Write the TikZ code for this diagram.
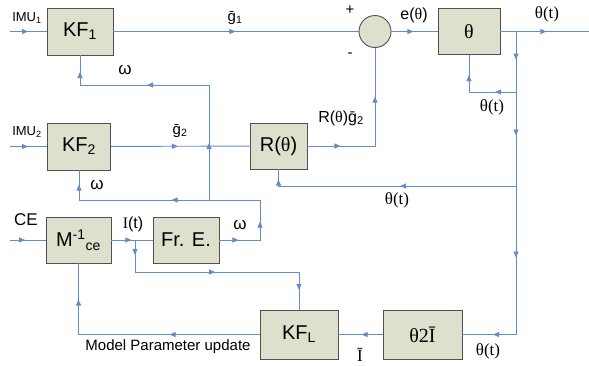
\documentclass[tikz,border=0pt]{standalone}
\usepackage{fontspec}
\setmainfont{Liberation Sans}
\newfontfamily\tms{Liberation Serif}
\usetikzlibrary{arrows.meta, decorations.markings}
\definecolor{relleno}{RGB}{220,224,204}
\definecolor{borde}{RGB}{80,80,80}
\definecolor{senal}{RGB}{100,140,200}

\begin{document}
\begin{tikzpicture}[x=1pt, y=-1pt,
  caja/.style={draw=borde, fill=relleno, line width=0.9pt, inner sep=0pt,
               font=\fontsize{20}{24}\selectfont},
  sen/.style={draw=senal, line width=0.9pt},
  fl/.style={postaction={decorate, decoration={markings,
             mark=at position #1 with {\arrow{Triangle[length=6pt, width=5pt]}}}}},
  et/.style={font=\fontsize{15}{18}\selectfont, inner sep=0pt},
  tt/.style={font=\tms\fontsize{17}{20}\selectfont, inner sep=0pt}]
\useasboundingbox (0,0) rectangle (589,365);
% bloques
\node[caja, minimum width=66pt, minimum height=47pt] (kf1) at (80,31.5) {KF\textsubscript{1}};
\node[caja, minimum width=63pt, minimum height=47pt] (kf2) at (79,146.5) {KF\textsubscript{2}};
\node[caja, minimum width=57pt, minimum height=46pt] (rt) at (278.5,146) {R({\tms θ})};
\node[caja, minimum width=65pt, minimum height=46pt] (minv) at (78.5,240) {M\textsuperscript{-1}\textsubscript{ce}};
\node[caja, minimum width=66pt, minimum height=46pt] (fre) at (186,240) {Fr. E.};
\node[caja, circle, minimum size=32pt] (suma) at (375,31.5) {};
\node[caja, minimum width=62pt, minimum height=46pt, font=\tms\fontsize{20}{24}\selectfont] (th) at (469,31.5) {θ};
\node[caja, minimum width=78pt, minimum height=49pt] (kfl) at (299,334.5) {KF\textsubscript{L}};
\node[caja, minimum width=79pt, minimum height=49pt, font=\tms\fontsize{20}{24}\selectfont] (t2i) at (422.5,334.5) {θ2\=I};
% puntos de union
\coordinate (in1) at (10,31.5);
\coordinate (in2) at (10,146.5);
\coordinate (ince) at (10,240);
\coordinate (sal) at (589,31.5);
\coordinate (ra) at (516,31.5);
\coordinate (rb) at (516,92);
\coordinate (rc) at (516,186);
\coordinate (rd) at (516,334.5);
\coordinate (w1) at (260,200);
\coordinate (w2) at (209,200);
\coordinate (w3) at (209,85);
\coordinate (ji) at (135,240);
\coordinate (ii) at (135,272);
% senales
\draw[sen, fl=18pt] (in1) -- (kf1);
\draw[sen, fl=122pt] (kf1) -- (suma);
\draw[sen, fl=22pt] (suma) -- (th);
\draw[sen, fl=46pt] (th) -- (sal);
\draw[sen, fl=28pt, fl=104pt, fl=226pt, fl=326pt] (ra) -- (rd) -- (t2i);
\draw[sen, fl=21pt, fl=64pt] (rb) -- (rb -| th) -- (th);
\draw[sen, fl=116pt, fl=244pt] (rc) -- (rc -| rt) -- (rt);
\draw[sen, fl=18pt] (in2) -- (kf2);
\draw[sen, fl=67pt] (kf2) -- (rt);
\draw[sen, fl=33pt, fl=117pt] (rt) -- (rt -| suma) -- (suma);
\draw[sen, fl=19pt, fl=59pt, fl=169pt, fl=277pt] (fre) -- (fre -| w1) -- (w1) -- (w1 -| kf2) -- (kf2);
\draw[sen, fl=57pt, fl=177pt, fl=257pt] (w2) -- (w3) -- (w3 -| kf1) -- (kf1);
\draw[sen, fl=15pt] (ince) -- (minv);
\draw[sen, fl=20pt] (minv) -- (fre);
\draw[sen, fl=15pt, fl=112pt, fl=214pt] (ji) -- (ii) -- (ii -| kfl) -- (kfl);
\draw[sen, fl=90pt, fl=216pt] (kfl) -- (kfl -| minv) -- (minv);
\draw[sen, fl=21pt] (t2i) -- (kfl);
% etiquetas
\node[et, font=\fontsize{13}{16}\selectfont] (limu1) at (27,18) {IMU\textsubscript{1}};
\node[et] (lg1) at (235,18) {\=g\textsubscript{1}};
\node[et] (lmas) at (350,10) {+};
\node[et] (lmenos) at (350,55) {-};
\node[et, font=\fontsize{16}{19}\selectfont] (le) at (414,15) {e({\tms θ})};
\node[tt] (lt1) at (547,14) {θ(t)};
\node[tt] (lt2) at (492,107) {θ(t)};
\node[et, font=\fontsize{16}{19}\selectfont] (lrg) at (341,118) {R({\tms θ})\=g\textsubscript{2}};
\node[et, font=\fontsize{17}{20}\selectfont] (lw1) at (125,70) {ω};
\node[et, font=\fontsize{13}{16}\selectfont] (limu2) at (27,132) {IMU\textsubscript{2}};
\node[et] (lg2) at (180,131) {\=g\textsubscript{2}};
\node[et, font=\fontsize{17}{20}\selectfont] (lw2) at (97,185) {ω};
\node[tt] (lt3) at (397,200) {θ(t)};
\node[et, font=\fontsize{17}{20}\selectfont] (lce) at (26,220) {CE};
\node[et, font=\fontsize{16}{19}\selectfont] (li) at (133,224) {{\tms I}(t)};
\node[et, font=\fontsize{17}{20}\selectfont] (lw3) at (240,225) {ω};
\node[et] (lmod) at (168,347) {Model Parameter update};
\node[tt] (li2) at (360,355) {\=I};
\node[tt] (lt4) at (488,351) {θ(t)};
\end{tikzpicture}
\end{document}
